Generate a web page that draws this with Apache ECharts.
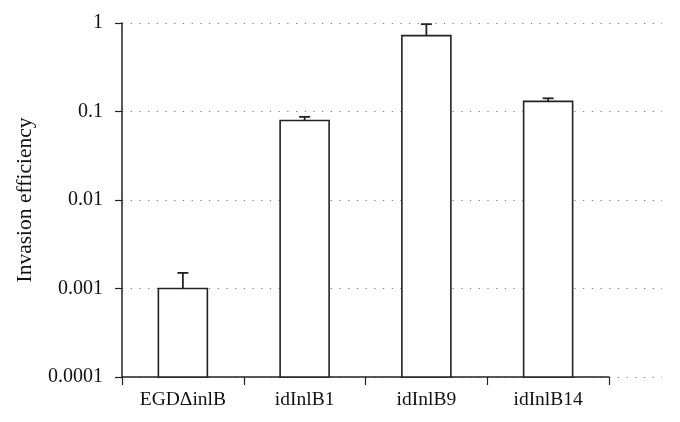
<!DOCTYPE html>
<html><head><meta charset="utf-8">
<script src="https://cdn.jsdelivr.net/npm/echarts@6/dist/echarts.min.js"></script>
<style>html,body{margin:0;padding:0;background:#fff}#c{width:680px;height:422px}</style>
</head><body><div id="c"></div>
<script>
var categories = ['EGD\u0394inlB', 'idInlB1', 'idInlB9', 'idInlB14'];
var values = [0.001, 0.079, 0.72, 0.13];
var errorUpper = [0.0015, 0.087, 0.97, 0.141];
var yTicks = [0.0001, 0.001, 0.01, 0.1, 1];

var chart = echarts.init(document.getElementById('c'));
var font = 'Liberation Serif';
var axisColor = '#222';
var yMin = yTicks[0], yMax = yTicks[yTicks.length - 1];
chart.setOption({
  animation: false,
  grid: [
    {left: 122, right: 71, top: 23, bottom: 45},
    {left: 122, right: 18, top: 23, bottom: 45}
  ],
  xAxis: [
    {type: 'category', data: categories, gridIndex: 0,
     axisLine: {lineStyle: {color: axisColor, width: 1.5}},
     axisTick: {show: true, length: 8, alignWithLabel: false, lineStyle: {color: axisColor, width: 1.2}},
     axisLabel: {color: '#111', fontFamily: font, fontSize: 19.5, margin: 13}},
    {type: 'value', gridIndex: 1, min: 0, max: 1, show: false}
  ],
  yAxis: [
    {type: 'log', logBase: 10, min: yMin, max: yMax, gridIndex: 0,
     name: 'Invasion efficiency', nameLocation: 'middle', nameGap: 86,
     nameTextStyle: {fontFamily: font, fontSize: 21.5, color: '#111'},
     axisLine: {show: true, lineStyle: {color: axisColor, width: 1.5}},
     axisTick: {show: true, length: 7, lineStyle: {color: axisColor, width: 1.2}},
     axisLabel: {color: '#111', fontFamily: font, fontSize: 20, margin: 19,
       formatter: function (v) { for (var i = 0; i < yTicks.length; i++) { if (Math.abs(Math.log10(v) - Math.log10(yTicks[i])) < 1e-6) return String(yTicks[i]); } return ''; }},
     splitLine: {show: false}},
    {type: 'log', logBase: 10, min: yMin, max: yMax, gridIndex: 1,
     axisLine: {show: false}, axisTick: {show: false}, axisLabel: {show: false},
     splitLine: {show: true, lineStyle: {color: '#777', width: 1.2, type: [1.2, 7.5]}}}
  ],
  series: [
    {type: 'custom', xAxisIndex: 0, yAxisIndex: 0, z: 3,
     data: values.map(function (v, i) { return [i, v]; }),
     renderItem: function (params, api) {
       var topPt = api.coord([api.value(0), api.value(1)]);
       var basePt = api.coord([api.value(0), yMin]);
       var w = 49;
       return {type: 'rect',
         shape: {x: topPt[0] - w / 2, y: topPt[1], width: w, height: basePt[1] - topPt[1]},
         style: {fill: '#fff', stroke: '#222', lineWidth: 1.6}};
     }},
    {type: 'custom', xAxisIndex: 0, yAxisIndex: 0, z: 4,
     data: values.map(function (v, i) { return [i, v, errorUpper[i]]; }),
     renderItem: function (params, api) {
       var base = api.coord([api.value(0), api.value(1)]);
       var top = api.coord([api.value(0), api.value(2)]);
       var x = base[0], hw = 5.5;
       var s = {stroke: '#222', lineWidth: 1.8};
       return {type: 'group', children: [
         {type: 'line', shape: {x1: x, y1: base[1], x2: x, y2: top[1]}, style: s},
         {type: 'line', shape: {x1: x - hw, y1: top[1], x2: x + hw, y2: top[1]}, style: s}
       ]};
     }}
  ]
});
</script></body></html>
